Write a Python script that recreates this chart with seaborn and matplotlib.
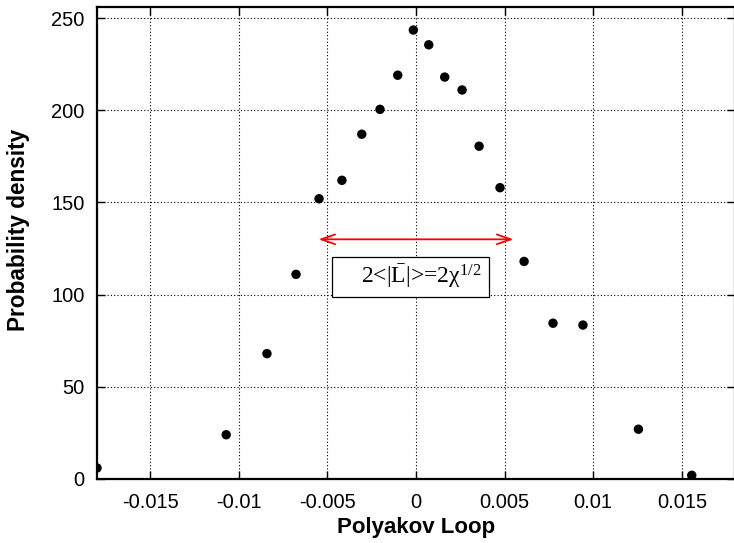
import matplotlib
matplotlib.use("Agg")
import matplotlib.pyplot as plt
from matplotlib.patches import Rectangle
import seaborn as sns
import pandas as pd

# Polyakov loop histogram
loop_values = [-0.0180, -0.01071, -0.00841, -0.00677, -0.00547, -0.00418,
               -0.00306, -0.00203, -0.00103, -0.00015, 0.00072, 0.00162,
               0.00260, 0.00356, 0.00474, 0.00610, 0.00773, 0.00942,
               0.01255, 0.01556]
density = [6, 24, 68, 111, 152, 162, 187, 200.5, 219, 243.5, 235.5, 218,
           211, 180.5, 158, 118, 84.5, 83.5, 27, 2]

x_ticks = [-0.015, -0.01, -0.005, 0, 0.005, 0.01, 0.015]
x_tick_labels = ["-0.015", "-0.01", "-0.005", "0", "0.005", "0.01", "0.015"]
y_ticks = [0, 50, 100, 150, 200, 250]

# width of the distribution: 2<|L|> on each side
half_width = 0.0055
arrow_level = 130

sns.set_style("ticks")
plt.rcParams["font.family"] = ["Liberation Sans", "DejaVu Sans"]
plt.rcParams["text.color"] = "black"
plt.rcParams["axes.labelcolor"] = "black"
plt.rcParams["mathtext.fontset"] = "custom"
plt.rcParams["mathtext.rm"] = "Liberation Serif"
plt.rcParams["mathtext.it"] = "Liberation Serif:italic"

df = pd.DataFrame({"loop": loop_values, "density": density})

fig = plt.figure(figsize=(7.34, 5.43), dpi=100)
ax = fig.add_axes([97 / 734, 64 / 543, 638 / 734, 472 / 543])

sns.scatterplot(data=df, x="loop", y="density", ax=ax, color="black",
                s=46, edgecolor="none", zorder=3, legend=False)

ax.set_xlim(-0.018, 0.018)
ax.set_ylim(0, 256)
ax.set_xticks(x_ticks)
ax.set_xticklabels(x_tick_labels)
ax.set_yticks(y_ticks)

ax.grid(True, color="black", linestyle=(0, (1, 2)), linewidth=0.8)
ax.tick_params(direction="in", length=6, width=1.0, top=True, right=True,
               labelsize=14.5, colors="black")
ax.tick_params(axis="x", pad=10)
ax.tick_params(axis="y", pad=9)
for sp in ax.spines.values():
    sp.set_linewidth(1.6)
    sp.set_color("black")

ax.set_xlabel("Polyakov Loop", fontsize=16, fontweight="bold", color="black")
ax.set_ylabel("Probability density", fontsize=16.3, fontweight="bold",
              color="black")
ax.xaxis.set_label_coords(0.5, -(527 - 479) / 472, transform=ax.transAxes)
ax.yaxis.set_label_coords(-(97 - 18) / 638, (479 - 229.5) / 472,
                          transform=ax.transAxes)
ax.xaxis.label.set_va("center")
ax.yaxis.label.set_va("center")

ax.annotate("", xy=(-half_width, arrow_level), xytext=(half_width, arrow_level),
            arrowprops=dict(arrowstyle="<->,head_length=1.0,head_width=0.35",
                            color="red", lw=1.3, shrinkA=0, shrinkB=0),
            zorder=4)

# framed label under the arrow
ax.add_patch(Rectangle((-0.00474, 98.9), 0.00886, 21.7, facecolor="white",
                       edgecolor="black", linewidth=0.9, zorder=5))
ax.text(0.00031, 106.5, r"2<|$\bar{\mathrm{L}}$|>=2χ$^{1/2}$",
        family="Liberation Serif", fontsize=17, ha="center", va="baseline",
        color="black", zorder=6)

fig.savefig("out.png", dpi=100)
